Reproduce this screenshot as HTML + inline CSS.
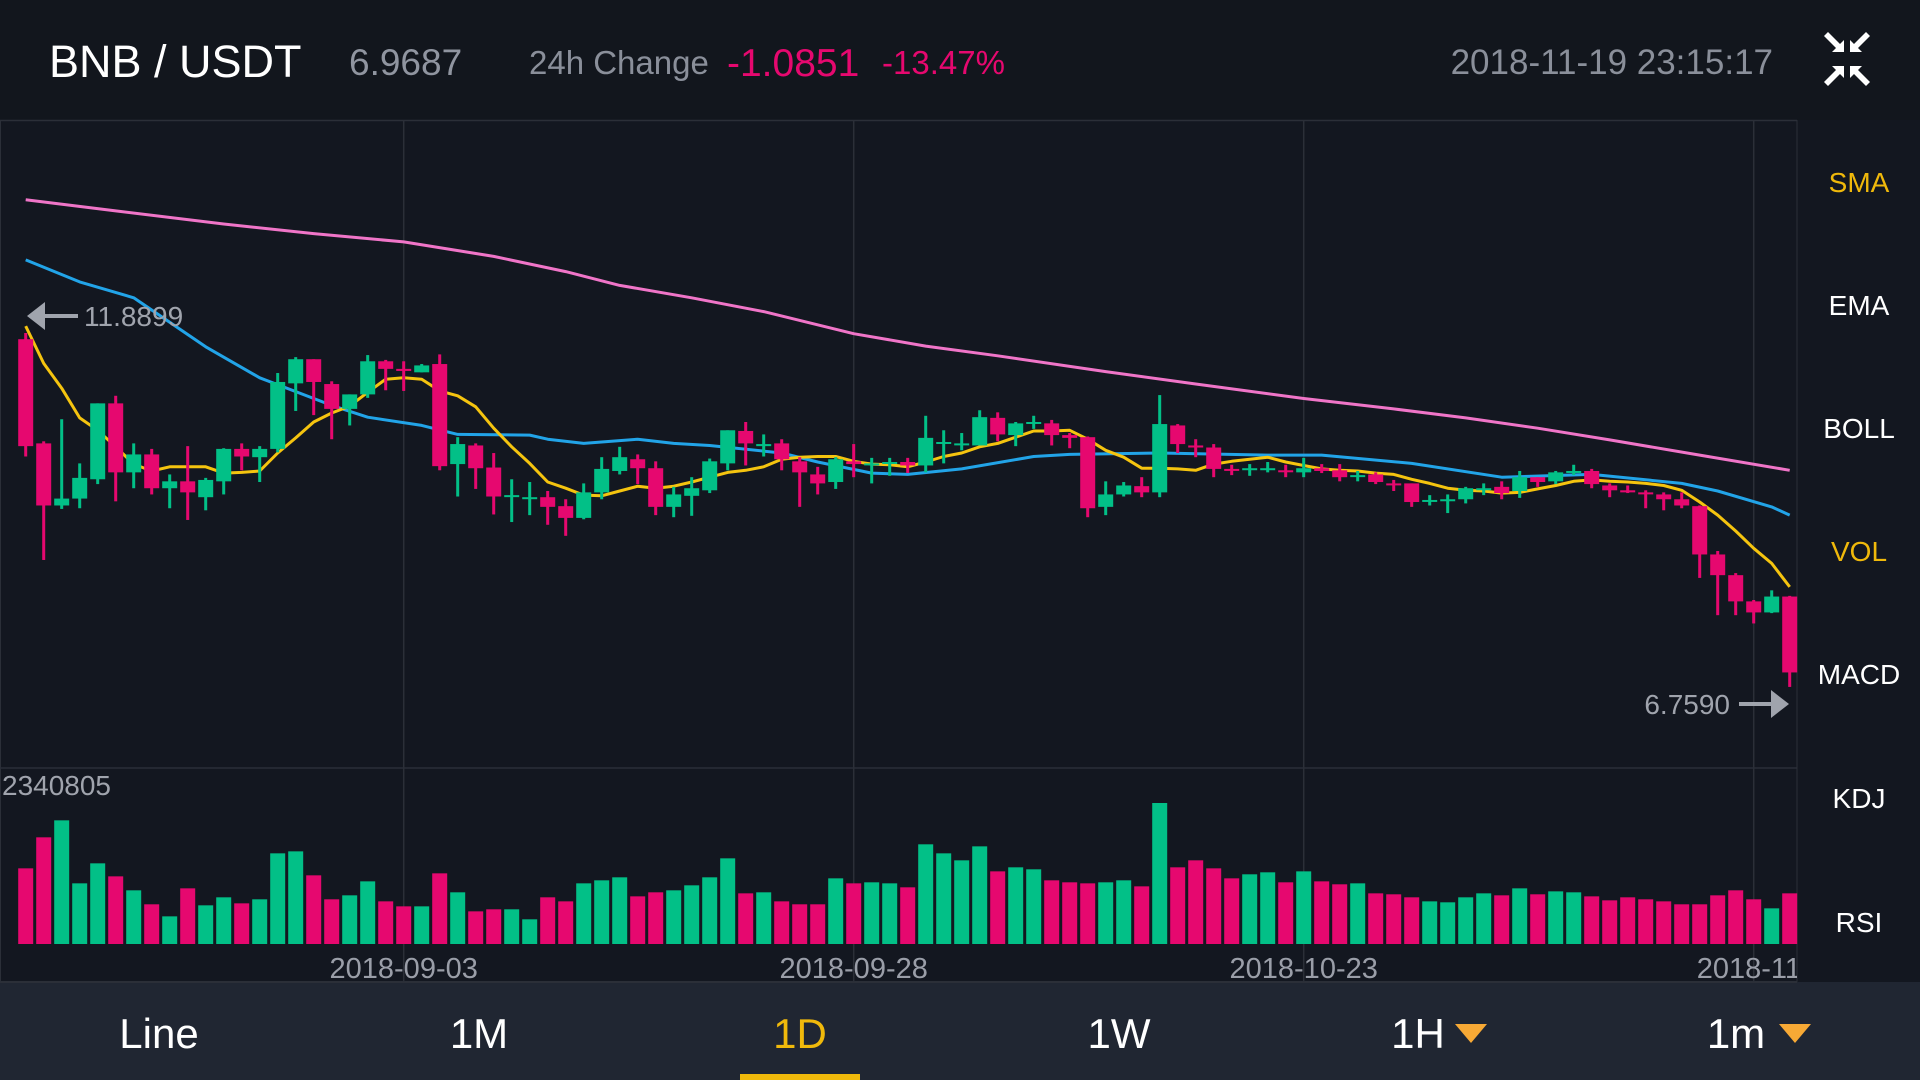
<!DOCTYPE html>
<html><head><meta charset="utf-8"><style>
html,body{margin:0;padding:0;background:#131720;width:1920px;height:1080px;overflow:hidden}
svg{display:block}
text{font-family:"Liberation Sans",sans-serif}
</style></head><body>
<svg id="chart" width="1920" height="1080" viewBox="0 0 1920 1080" xmlns="http://www.w3.org/2000/svg">
<defs><clipPath id="plotclip"><rect x="0" y="120" width="1797" height="862"/></clipPath></defs>
<rect x="0" y="0" width="1920" height="1080" fill="#131720"/>
<rect x="0" y="0" width="1920" height="120" fill="#12161d"/>
<line x1="0" y1="120.5" x2="1797" y2="120.5" stroke="#2b2f38" stroke-width="1.5"/>
<text x="49" y="77" font-size="45" fill="#ffffff">BNB / USDT</text>
<text x="349" y="75" font-size="37" fill="#9095a0">6.9687</text>
<text x="529" y="74" font-size="33" fill="#8a8f9a">24h Change</text>
<text x="727" y="76" font-size="39" fill="#e6086f">-1.0851</text>
<text x="882" y="74" font-size="33" fill="#e6086f">-13.47%</text>
<text x="1773" y="74" font-size="35" fill="#8a8f9a" text-anchor="end">2018-11-19 23:15:17</text>
<g fill="#ffffff">
<polygon points="1824,36 1836,48 1832,52 1844,52 1844,40 1840,44 1828,32"/>
<polygon points="1870,36 1858,48 1862,52 1850,52 1850,40 1854,44 1866,32"/>
<polygon points="1824,82 1836,70 1832,66 1844,66 1844,78 1840,74 1828,86"/>
<polygon points="1870,82 1858,70 1862,66 1850,66 1850,78 1854,74 1866,86"/>
</g>
<line x1="0.5" y1="120" x2="0.5" y2="982" stroke="#2b2f38"/>
<line x1="0" y1="768" x2="1797" y2="768" stroke="#2b2f38" stroke-width="1.5"/>
<line x1="1797" y1="120" x2="1797" y2="982" stroke="#2b2f38"/>
<rect x="0" y="982" width="1920" height="98" fill="#202632"/>
<line x1="0" y1="982" x2="1797" y2="982" stroke="#2b2f38" stroke-width="2"/>
<g id="grid"></g>
<g id="vols"></g>
<g id="lines"></g>
<g id="candles"></g>
<g id="labels" clip-path="url(#plotclip)"></g>
<g>
<line x1="30" y1="316" x2="78" y2="316" stroke="#a0a4ad" stroke-width="4"/>
<polygon points="27,316 45,302 45,330" fill="#a0a4ad"/>
<text x="84" y="326" font-size="28" fill="#a0a4ad">11.8899</text>
</g>
<g>
<line x1="1739" y1="704" x2="1780" y2="704" stroke="#a0a4ad" stroke-width="4"/>
<polygon points="1789,704 1771,690 1771,718" fill="#a0a4ad"/>
<text x="1730" y="714" font-size="28" fill="#a0a4ad" text-anchor="end">6.7590</text>
</g>
<text x="2" y="795" font-size="28" fill="#a0a4ad">2340805</text>
<g font-size="28" text-anchor="middle">
<text x="1859" y="192" fill="#f0b90b">SMA</text>
<text x="1859" y="315" fill="#ffffff">EMA</text>
<text x="1859" y="438" fill="#ffffff">BOLL</text>
<text x="1859" y="561" fill="#f0b90b">VOL</text>
<text x="1859" y="684" fill="#ffffff">MACD</text>
<text x="1859" y="808" fill="#ffffff">KDJ</text>
<text x="1859" y="932" fill="#ffffff">RSI</text>
</g>
<g font-size="42" text-anchor="middle">
<text x="159" y="1048" fill="#ffffff">Line</text>
<text x="479" y="1048" fill="#ffffff">1M</text>
<text x="800" y="1048" fill="#f0b90b">1D</text>
<text x="1119" y="1048" fill="#ffffff">1W</text>
<text x="1418" y="1048" fill="#ffffff">1H</text>
<polygon points="1455,1024 1487,1024 1471,1043" fill="#f7a935"/>
<text x="1736" y="1048" fill="#ffffff">1m</text>
<polygon points="1779,1024 1811,1024 1795,1043" fill="#f7a935"/>
<rect x="740" y="1074" width="120" height="6" fill="#f0b90b"/>
</g>
</svg>
<script>
const opens=[11.80,10.29,9.39,9.49,9.77,10.87,9.87,10.13,9.64,9.74,9.51,9.74,10.21,10.09,10.21,11.16,11.51,11.15,10.79,11.00,11.48,11.37,11.32,11.44,9.99,10.26,9.94,9.52,9.50,9.51,9.38,9.21,9.58,9.89,10.06,9.93,9.37,9.53,9.61,10.00,10.47,10.25,10.29,10.03,9.84,9.73,10.03,9.99,10.00,10.02,9.97,10.29,10.28,10.26,10.66,10.41,10.58,10.58,10.41,10.38,9.37,9.55,9.67,9.58,10.55,10.26,10.23,9.92,9.92,9.92,9.90,9.87,9.93,9.90,9.81,9.84,9.71,9.71,9.45,9.47,9.48,9.63,9.66,9.60,9.80,9.74,9.87,9.89,9.68,9.61,9.58,9.55,9.48,9.38,8.68,8.38,8.00,7.84,8.07];
const closes=[10.25,9.39,9.49,9.79,10.87,9.87,10.13,9.64,9.74,9.58,9.76,10.21,10.10,10.21,11.18,11.51,11.18,10.79,11.00,11.48,11.37,11.34,11.42,9.96,10.28,9.93,9.52,9.54,9.51,9.37,9.21,9.58,9.92,10.09,9.93,9.37,9.55,9.64,10.03,10.48,10.29,10.28,10.06,9.87,9.71,10.06,9.99,10.00,10.02,9.97,10.37,10.31,10.29,10.67,10.42,10.58,10.60,10.41,10.37,9.35,9.55,9.68,9.58,10.57,10.28,10.23,9.92,9.90,9.93,9.93,9.89,9.93,9.89,9.80,9.83,9.73,9.70,9.44,9.47,9.48,9.64,9.64,9.57,9.80,9.73,9.87,9.89,9.70,9.61,9.58,9.57,9.48,9.39,8.68,8.38,8.00,7.84,8.07,6.97];
const highs=[11.89,10.32,10.64,10.00,10.87,10.98,10.29,10.21,9.84,10.25,9.79,10.22,10.29,10.25,11.31,11.54,11.51,11.19,11.00,11.57,11.50,11.48,11.44,11.58,10.38,10.29,10.15,9.77,9.73,9.60,9.48,9.71,10.09,10.24,10.13,10.03,9.66,9.80,10.07,10.48,10.60,10.42,10.35,10.09,9.95,10.09,10.28,10.08,10.08,10.08,10.69,10.48,10.44,10.77,10.74,10.60,10.69,10.63,10.44,10.39,9.74,9.73,9.80,10.99,10.57,10.35,10.28,9.98,9.99,10.02,9.98,10.08,9.99,9.99,9.89,9.87,9.76,9.71,9.54,9.55,9.66,9.71,9.74,9.89,9.80,9.89,9.98,9.92,9.71,9.68,9.61,9.58,9.58,9.39,8.73,8.41,8.02,8.16,8.08];
const lows=[10.10,8.60,9.34,9.35,9.70,9.45,9.64,9.55,9.35,9.18,9.32,9.55,9.90,9.73,10.16,10.76,10.70,10.35,10.55,10.95,11.06,11.05,11.32,9.90,9.52,9.63,9.26,9.15,9.25,9.11,8.95,9.19,9.48,9.84,9.70,9.25,9.22,9.24,9.57,9.90,9.97,10.10,9.90,9.37,9.55,9.63,9.80,9.71,9.82,9.86,9.87,10.00,10.19,10.26,10.32,10.25,10.50,10.26,10.22,9.22,9.25,9.52,9.51,9.51,10.15,10.09,9.80,9.83,9.82,9.87,9.80,9.80,9.86,9.74,9.74,9.70,9.60,9.37,9.39,9.28,9.42,9.54,9.48,9.50,9.66,9.70,9.83,9.64,9.51,9.57,9.35,9.32,9.35,8.34,7.80,7.80,7.68,7.83,6.76];
const volumes=[1256,1771,2053,1007,1339,1123,891,659,459,924,642,775,675,742,1505,1538,1140,742,808,1040,708,625,625,1173,858,542,576,576,410,775,708,1007,1057,1107,791,858,891,974,1107,1422,841,858,708,659,659,1090,1007,1024,1007,941,1655,1505,1389,1621,1206,1273,1240,1057,1024,1007,1024,1057,957,2340.805,1273,1389,1256,1090,1157,1190,1024,1206,1040,991,1007,841,825,775,708,692,775,841,808,924,825,874,858,791,725,775,742,708,659,659,808,891,742,592,841];
const maFast=[11.99,11.45,11.09,10.66,10.48,10.24,9.99,9.89,9.95,9.95,9.95,9.86,9.87,9.89,10.15,10.37,10.60,10.73,10.83,11.03,11.22,11.24,11.22,11.05,10.98,10.82,10.51,10.24,10.00,9.73,9.64,9.54,9.53,9.60,9.67,9.64,9.67,9.73,9.80,9.87,9.90,9.95,10.06,10.09,10.10,10.10,10.03,9.99,9.98,9.95,10.02,10.10,10.15,10.24,10.29,10.38,10.47,10.47,10.48,10.35,10.19,10.09,9.93,9.93,9.92,9.90,9.99,10.03,10.06,10.09,10.02,9.97,9.92,9.90,9.89,9.86,9.84,9.77,9.71,9.64,9.61,9.60,9.57,9.58,9.63,9.68,9.74,9.76,9.74,9.73,9.71,9.68,9.61,9.44,9.25,9.02,8.77,8.55,8.21];
const maMidIdx=[0,3,6,10,13,17,19,22,24,28,29,31,34,36,38,42,44,47,49,52,56,58,63,69,72,77,82,87,92,94,97,98];
const maMidVal=[12.95,12.63,12.40,11.69,11.24,10.84,10.67,10.55,10.42,10.41,10.35,10.29,10.35,10.29,10.26,10.15,10.02,9.86,9.84,9.92,10.10,10.13,10.15,10.12,10.12,10.00,9.80,9.84,9.71,9.60,9.37,9.25];
const maSlowIdx=[0,5,11,16,21,26,30,33,37,41,46,50,54,60,65,71,76,80,84,88,93,98];
const maSlowVal=[13.82,13.66,13.47,13.33,13.21,13.00,12.78,12.58,12.40,12.20,11.88,11.70,11.56,11.33,11.15,10.94,10.79,10.66,10.51,10.34,10.12,9.90];
const dateIdx=[21,46,71,96];
const dateLabels=["2018-09-03","2018-09-28","2018-10-23","2018-11-"];
const priceTop=11.8899, priceBottom=6.759, volMax=2340.805;

const NS="http://www.w3.org/2000/svg";
function xAt(i){return 25.7+18*i;}
function yPrice(p){return 333+(priceTop-p)*(687-333)/(priceTop-priceBottom);}
function yVol(v){return 944-v/volMax*141;}
function mk(tag,attrs,parent){const e=document.createElementNS(NS,tag);for(const k in attrs)e.setAttribute(k,attrs[k]);parent.appendChild(e);return e;}
const GREEN="#02c087", RED="#e6086f";
const gGrid=document.getElementById('grid');
const gVol=document.getElementById('vols');
const gLines=document.getElementById('lines');
const gC=document.getElementById('candles');
const gLab=document.getElementById('labels');
dateIdx.forEach((di,k)=>{
  const l=mk('line',{x1:xAt(di),y1:121,x2:xAt(di),y2:982,stroke:'#2b2f38','stroke-width':1.5},gGrid);
  
  
  const t=mk('text',{x:xAt(di),y:978,'font-size':29,fill:'#9a9ea8','text-anchor':'middle'},gLab);
  t.textContent=dateLabels[k];
  
  
});
volumes.forEach((v,i)=>{
  const up=closes[i]>=opens[i];
  const y=yVol(v);
  const r=mk('rect',{x:xAt(i)-7.5,y:y,width:15,height:944-y,fill:up?GREEN:RED},gVol);
  
  
});
function polyline(idx,vals,color,name){
  const pts=idx.map((ix,k)=>xAt(ix).toFixed(1)+','+yPrice(vals[k]).toFixed(1)).join(' ');
  const p=mk('polyline',{points:pts,fill:'none',stroke:color,'stroke-width':3,'stroke-linejoin':'round'},gLines);
  
  
}
polyline(maSlowIdx,maSlowVal,'#f075c8','ma-slow-line');
polyline(maMidIdx,maMidVal,'#22a4e8','ma-mid-line');
polyline(maFast.map((_,i)=>i),maFast,'#f5c40f','ma-fast-line');
opens.forEach((o,i)=>{
  const c=closes[i], up=c>=o, col=up?GREEN:RED, x=xAt(i);
  const w=mk('rect',{x:x-1.5,y:yPrice(highs[i]),width:3,height:Math.max(1,yPrice(lows[i])-yPrice(highs[i])),fill:col},gC);
  
  
  const top=yPrice(Math.max(o,c)), bot=yPrice(Math.min(o,c));
  const b=mk('rect',{x:x-7.5,y:top,width:15,height:Math.max(2,bot-top),fill:col},gC);
  
  
});
</script>
</body></html>
